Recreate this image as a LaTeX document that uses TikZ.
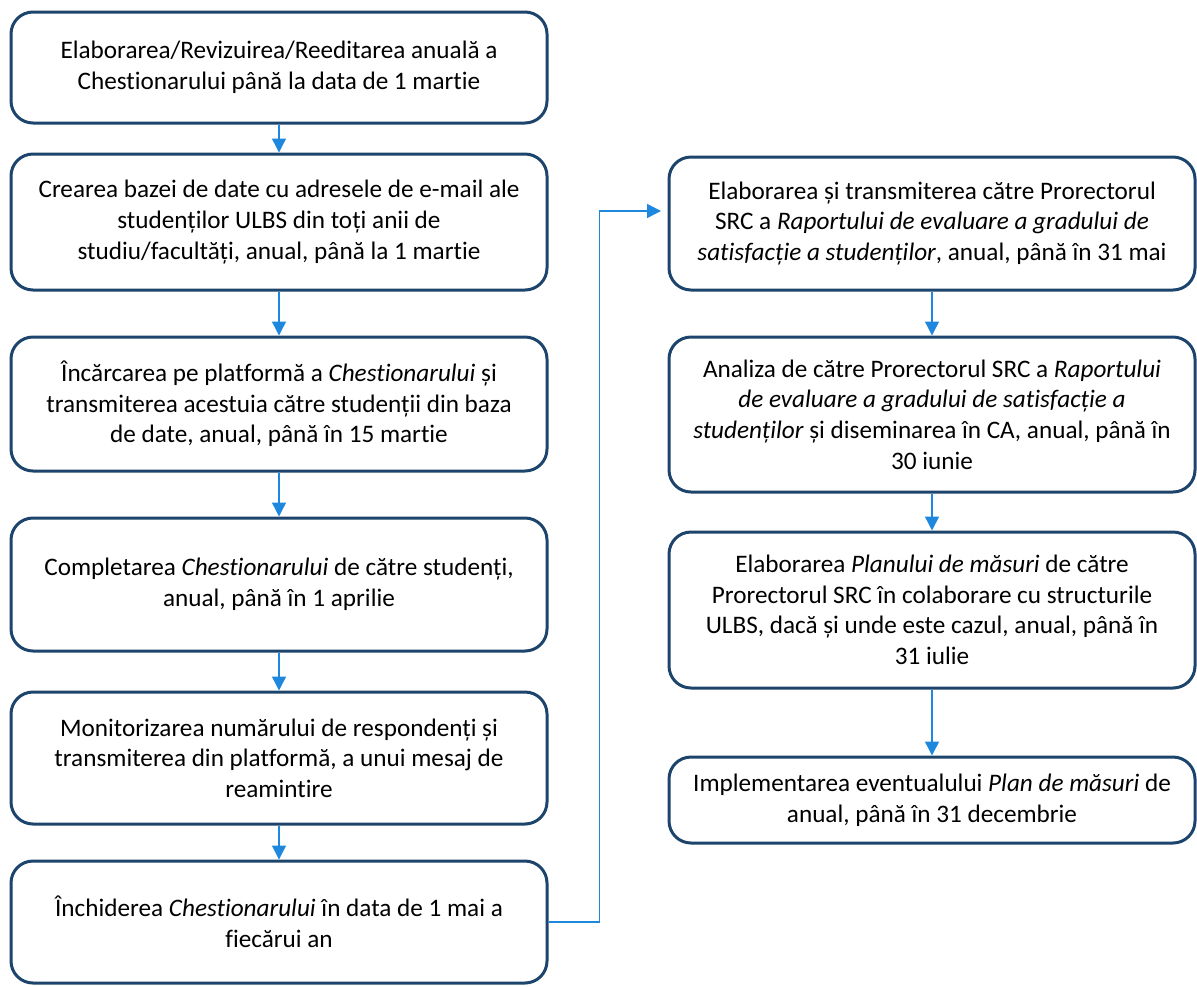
\documentclass[tikz,border=0pt]{standalone}
\usepackage{fontspec}
\setmainfont{Carlito}[Ligatures=NoCommon]
\usetikzlibrary{arrows.meta}
\definecolor{boxc}{RGB}{28,68,108}
\definecolor{arrc}{RGB}{30,136,222}
\tikzset{
  stepbox/.style={draw=boxc, line width=1.5pt, rounded corners=11pt, align=center,
    inner sep=0pt, font=\fontsize{12.6}{15.3}\selectfont, text=black},
  lbox/.style={stepbox, minimum width=268pt},
  rbox/.style={stepbox, minimum width=263pt},
  flow/.style={draw=arrc, line width=0.7pt, -{Triangle[width=7pt,length=7pt]}}
}
\begin{document}
\begin{tikzpicture}[x=0.5pt,y=-0.5pt]
\useasboundingbox (0,0) rectangle (1197,986);
% left column
\node[lbox, minimum height=55.5pt] (L1) at (279,67.5)
  {Elaborarea/Revizuirea/Reeditarea anuală a\\Chestionarului până la data de 1 martie};
\node[lbox, minimum height=68pt] (L2) at (279,222)
  {Crearea bazei de date cu adresele de e-mail ale\\studenților ULBS din toți anii de\\studiu/facultăți, anual, până la 1 martie};
\node[lbox, minimum height=67pt] (L3) at (279,404)
  {Încărcarea pe platformă a \textit{Chestionarului} și\\transmiterea acestuia către studenții din baza\\de date, anual, până în 15 martie};
\node[lbox, minimum height=66.5pt] (L4) at (279,584.5)
  {Completarea \textit{Chestionarului} de către studenți,\\anual, până în 1 aprilie};
\node[lbox, minimum height=66pt] (L5) at (279,758)
  {Monitorizarea numărului de respondenți și\\transmiterea din platformă, a unui mesaj de\\reamintire};
\node[lbox, minimum height=61pt] (L6) at (279,922)
  {Închiderea \textit{Chestionarului} în data de 1 mai a\\fiecărui an};
% right column
\node[rbox, minimum height=66.5pt] (R1) at (932,223.5)
  {Elaborarea și transmiterea către Prorectorul\\SRC a \textit{Raportului de evaluare a gradului de}\\\textit{satisfacție a studenților}, anual, până în 31 mai};
\node[rbox, minimum height=77.5pt] (R2) at (932,414.5)
  {Analiza de către Prorectorul SRC a \textit{Raportului}\\\textit{de evaluare a gradului de satisfacție a}\\\textit{studenților} și diseminarea în CA, anual, până în\\30 iunie};
\node[rbox, minimum height=78pt] (R3) at (932,610)
  {Elaborarea \textit{Planului de măsuri} de către\\Prorectorul SRC în colaborare cu structurile\\ULBS, dacă și unde este cazul, anual, până în\\31 iulie};
\node[rbox, minimum height=43pt] (R4) at (932,800)
  {Implementarea eventualului \textit{Plan de măsuri} de\\anual, până în 31 decembrie};
% connectors
\draw[flow] (L1) -- (L2);
\draw[flow] (L2) -- (L3);
\draw[flow] (L3) -- (L4);
\draw[flow] (L4) -- (L5);
\draw[flow] (L5) -- (L6);
\draw[flow] (R1) -- (R2);
\draw[flow] (R2) -- (R3);
\draw[flow] (R3) -- (R4);
\coordinate (rin) at (661,211);
\draw[flow] (L6.east) -- ++(51,0) |- (rin);
\end{tikzpicture}
\end{document}
